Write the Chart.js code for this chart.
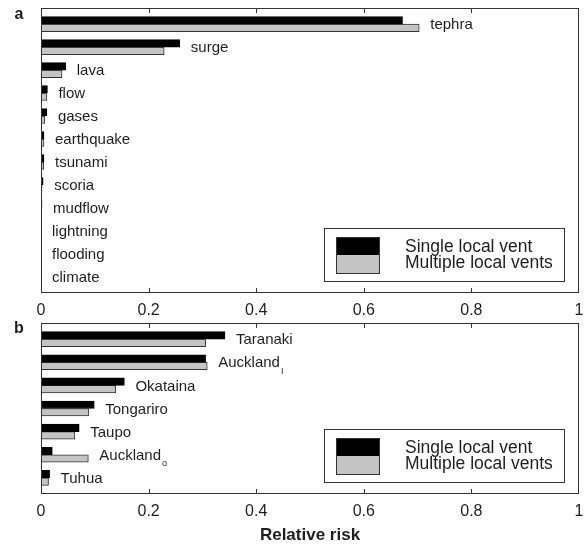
<!DOCTYPE html>
<html>
<head>
<meta charset="utf-8">
<script src="https://cdn.jsdelivr.net/npm/chart.js@4.4.0/dist/chart.umd.min.js"></script>
<style>
  body { margin: 0; background: #fff; }
  #wrapA { position: absolute; left: 0; top: 0; width: 584px; height: 320px; }
  #wrapB { position: absolute; left: 0; top: 320px; width: 584px; height: 226px; }
</style>
</head>
<body>
<div id="wrapA"><canvas id="panelA"></canvas></div>
<div id="wrapB"><canvas id="panelB"></canvas></div>
<script>
// panel a: hazard types
const hazards = ['tephra', 'surge', 'lava', 'flow', 'gases', 'earthquake', 'tsunami', 'scoria', 'mudflow', 'lightning', 'flooding', 'climate'];
const hazardSingle = [0.672, 0.258, 0.046, 0.012, 0.011, 0.0056, 0.0056, 0.004, 0.002, 0, 0, 0];
const hazardMultiple = [0.703, 0.229, 0.039, 0.011, 0.007, 0.0056, 0.005, 0.002, 0.001, 0, 0, 0];

// panel b: volcanic centres ("_" marks a subscript)
const centres = ['Taranaki', 'Auckland_I', 'Okataina', 'Tongariro', 'Taupo', 'Auckland_o', 'Tuhua'];
const centreSingle = [0.342, 0.306, 0.155, 0.099, 0.071, 0.021, 0.016];
const centreMultiple = [0.306, 0.309, 0.139, 0.089, 0.063, 0.088, 0.014];

const xTicks = [0, 0.2, 0.4, 0.6, 0.8, 1];
const seriesNames = ['Single local vent', 'Multiple local vents'];

const FONT = '"Liberation Sans", Arial, Helvetica, sans-serif';
const INK = '#1e1e1e';

function points(values) {
    return values.map((v, i) => ({ x: v, y: i }));
}

// frame, inward ticks, bar labels, legend and panel letter
const decor = {
    id: 'decor',
    afterDatasetsDraw(chart, args, opts) {
        const ctx = chart.ctx;
        const ca = chart.chartArea;
        const xs = chart.scales.x;
        const ys = chart.scales.y;
        ctx.save();
        ctx.strokeStyle = '#333';
        ctx.lineWidth = 1;
        ctx.strokeRect(ca.left + 0.5, ca.top + 0.5, ca.right - ca.left - 1, ca.bottom - ca.top - 1);
        xTicks.slice(1, -1).forEach(t => {
            const px = Math.round(xs.getPixelForValue(t)) + 0.5;
            ctx.beginPath();
            ctx.moveTo(px, ca.top);
            ctx.lineTo(px, ca.top + 5);
            ctx.moveTo(px, ca.bottom);
            ctx.lineTo(px, ca.bottom - 5);
            ctx.stroke();
        });

        // category names next to bars
        const d0 = chart.data.datasets[0].data;
        const d1 = chart.data.datasets[1].data;
        ctx.fillStyle = INK;
        ctx.textBaseline = 'middle';
        ctx.textAlign = 'left';
        opts.names.forEach((name, i) => {
            const end = Math.max(d0[i].x, d1[i].x);
            const x = xs.getPixelForValue(end) + 11;
            const y = ys.getPixelForValue(i) + 1;
            const parts = name.split('_');
            ctx.font = '15px ' + FONT;
            ctx.fillText(parts[0], x, y);
            if (parts[1]) {
                const w = ctx.measureText(parts[0]).width;
                ctx.font = '9px ' + FONT;
                ctx.fillText(parts[1], x + w + 1, y + 8);
            }
        });

        // legend box
        const bx = ca.right - 255;
        const by = ca.bottom - 12 - 53;
        ctx.strokeStyle = '#333';
        ctx.strokeRect(bx + 0.5, by + 0.5, 240, 53);
        const sx = bx + 12, sy = by + 9;
        chart.data.datasets.forEach((ds, k) => {
            ctx.fillStyle = ds.backgroundColor;
            ctx.fillRect(sx, sy + k * 18, 43, 18);
        });
        ctx.strokeRect(sx + 0.5, sy + 0.5, 43, 36);
        ctx.fillStyle = INK;
        ctx.font = '17.5px ' + FONT;
        chart.data.datasets.forEach((ds, k) => {
            ctx.fillText(ds.label, bx + 81, sy + 10 + k * 16.6);
        });

        // panel letter
        ctx.font = 'bold 16px ' + FONT;
        ctx.textAlign = 'center';
        ctx.fillText(opts.letter, 19, opts.letterY);
        ctx.restore();
    }
};

function makePanel(id, names, single, multiple, opt) {
    return new Chart(document.getElementById(id).getContext('2d'), {
        type: 'bar',
        data: {
            datasets: [{
                label: seriesNames[0],
                data: points(single),
                backgroundColor: '#000000',
                borderColor: '#000000',
                borderWidth: 1
            }, {
                label: seriesNames[1],
                data: points(multiple),
                backgroundColor: '#c4c4c4',
                borderColor: '#333333',
                borderWidth: 1
            }]
        },
        options: {
            indexAxis: 'y',
            responsive: true,
            maintainAspectRatio: false,
            animation: false,
            layout: { padding: { left: 41, right: 5, top: opt.top, bottom: 0 } },
            barThickness: 7.5,
            plugins: {
                legend: { display: false },
                tooltip: { enabled: false },
                decor: { names: names, letter: opt.letter, letterY: opt.letterY }
            },
            scales: {
                y: {
                    type: 'linear',
                    display: false,
                    reverse: true,
                    offset: false,
                    min: -0.7,
                    max: names.length - 1 + 0.7
                },
                x: {
                    type: 'linear',
                    min: 0,
                    max: 1,
                    afterBuildTicks: s => { s.ticks = xTicks.map(v => ({ value: v })); },
                    afterFit: s => {
                        s.height = opt.axisHeight;
                        s.paddingLeft = 0;
                        s.paddingRight = 0;
                    },
                    grid: { display: false, drawTicks: false },
                    border: { display: false },
                    ticks: {
                        padding: 8,
                        color: INK,
                        font: { family: FONT, size: 16 },
                        callback: v => String(v)
                    },
                    title: {
                        display: opt.title,
                        text: 'Relative risk',
                        color: INK,
                        padding: { top: 0, bottom: 0 },
                        font: { family: FONT, size: 17, weight: 'bold' }
                    }
                }
            }
        },
        plugins: [decor]
    });
}

makePanel('panelA', hazards, hazardSingle, hazardMultiple,
    { top: 8, axisHeight: 27, title: false, letter: 'a', letterY: 15 });
makePanel('panelB', centres, centreSingle, centreMultiple,
    { top: 3, axisHeight: 52, title: true, letter: 'b', letterY: 9 });
</script>
</body>
</html>
